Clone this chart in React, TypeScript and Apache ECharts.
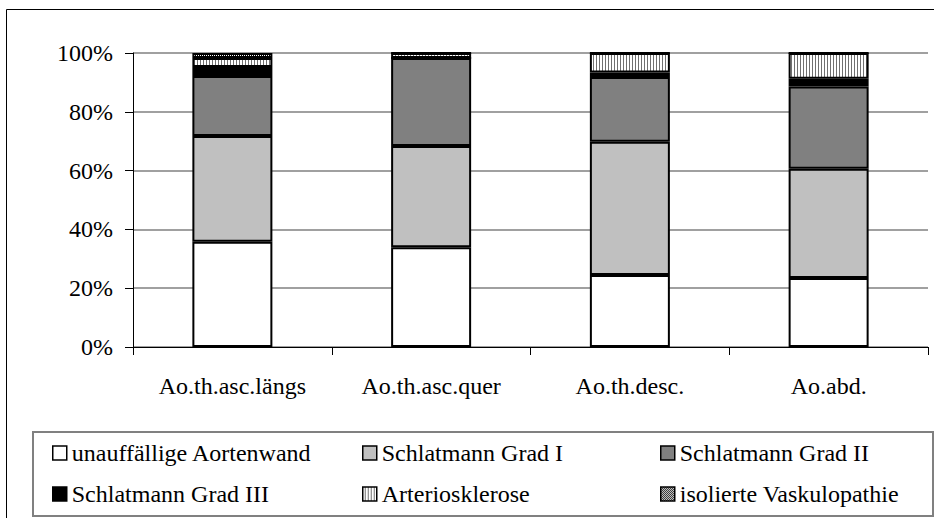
import React, { useEffect, useRef } from "react";
import * as echarts from "echarts";

const categories = ["Ao.th.asc.längs", "Ao.th.asc.quer", "Ao.th.desc.", "Ao.abd."];
const seriesNames = [
  "unauffällige Aortenwand",
  "Schlatmann Grad I",
  "Schlatmann Grad II",
  "Schlatmann Grad III",
  "Arteriosklerose",
  "isolierte Vaskulopathie",
];
const unauffaellig = [35.8, 33.9, 24.5, 23.5];
const gradI = [36.0, 34.5, 45.3, 37.1];
const gradII = [20.4, 29.9, 22.0, 28.0];
const gradIII = [3.0, 0.0, 1.6, 2.6];
const arterio = [3.1, 1.7, 6.6, 8.8];
const isoliert = [1.7, 0.0, 0.0, 0.0];
const yTicks = [0, 20, 40, 60, 80, 100];

function makePattern(kind: "stripes" | "checker"): string {
  const c = document.createElement("canvas");
  if (kind === "stripes") {
    c.width = 3;
    c.height = 3;
    const ctx = c.getContext("2d")!;
    ctx.fillStyle = "#ffffff";
    ctx.fillRect(0, 0, 3, 3);
    ctx.fillStyle = "#707070";
    ctx.fillRect(2, 0, 1, 3);
  } else {
    c.width = 2;
    c.height = 2;
    const ctx = c.getContext("2d")!;
    ctx.fillStyle = "#ffffff";
    ctx.fillRect(0, 0, 2, 2);
    ctx.fillStyle = "#000000";
    ctx.fillRect(0, 0, 1, 1);
    ctx.fillRect(1, 1, 1, 1);
  }
  return c.toDataURL();
}

const FONT = "'Liberation Serif', 'Times New Roman', serif";
const FS = 24;

export default function App() {
  const ref = useRef<HTMLDivElement>(null);
  useEffect(() => {
    if (!ref.current) return;
    const chart = echarts.init(ref.current, undefined, { renderer: "svg" });
    const stripes = { image: makePattern("stripes"), repeat: "repeat" };
    const checker = { image: makePattern("checker"), repeat: "repeat" };
    const values = [unauffaellig, gradI, gradII, gradIII, arterio, isoliert];
    const colors: any[] = ["#ffffff", "#c0c0c0", "#808080", "#000000", stripes, checker];
    const series = seriesNames.map((name, i) => ({
      name,
      type: "bar",
      stack: "total",
      barWidth: 80,
      data: values[i],
      itemStyle: { color: colors[i], borderColor: "#000", borderWidth: 2 },
      emphasis: { disabled: true },
    }));
    const legendBase = {
      orient: "vertical",
      padding: 0,
      itemWidth: 14,
      itemHeight: 14,
      itemGap: 17,
      selectedMode: false,
      icon: "rect",
      textStyle: { fontFamily: FONT, fontSize: FS, color: "#000", lineHeight: 24, padding: [0, 0, 0, 0] },
      itemStyle: { borderColor: "#000", borderWidth: 1.5 },
    };
    chart.setOption({
      animation: false,
      backgroundColor: "#fff",
      grid: { left: 133, right: 6, top: 53, bottom: 171, containLabel: false },
      xAxis: {
        type: "category",
        data: categories,
        axisLine: { lineStyle: { color: "#000", width: 1 } },
        axisTick: { show: true, length: 8, inside: false, lineStyle: { color: "#000" } },
        axisLabel: { fontFamily: FONT, fontSize: FS, color: "#000", margin: 27, interval: 0 },
      },
      yAxis: {
        type: "value",
        min: yTicks[0],
        max: yTicks[yTicks.length - 1],
        interval: 20,
        axisLine: { show: true, lineStyle: { color: "#000", width: 1 } },
        axisTick: { show: true, length: 8, lineStyle: { color: "#000" } },
        axisLabel: { fontFamily: FONT, fontSize: FS, color: "#000", margin: 20, formatter: "{value}%" },
        splitLine: { show: true, lineStyle: { color: "#808080", width: 1.5 } },
      },
      legend: [
        { ...legendBase, left: 52, top: 441, data: [seriesNames[0], seriesNames[3]] },
        { ...legendBase, left: 362, top: 441, data: [seriesNames[1], seriesNames[4]] },
        { ...legendBase, left: 660, top: 441, data: [seriesNames[2], seriesNames[5]] },
      ],
      graphic: [
        {
          type: "rect",
          z: -10,
          shape: { x: 6.5, y: 9.5, width: 940, height: 520 },
          style: { fill: "none", stroke: "#000", lineWidth: 1 },
          silent: true,
        },
        {
          type: "rect",
          z: -10,
          shape: { x: 33, y: 432, width: 900, height: 84 },
          style: { fill: "none", stroke: "#808080", lineWidth: 2 },
          silent: true,
        },
      ],
      series,
    });
    return () => chart.dispose();
  }, []);
  return <div ref={ref} style={{ width: 934, height: 518, position: "absolute", left: 0, top: 0 }} />;
}
